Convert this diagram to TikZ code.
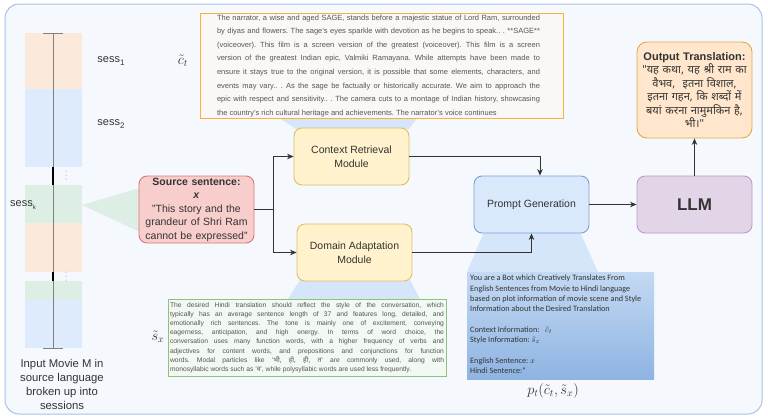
\documentclass[tikz,border=0pt]{standalone}
\usepackage{fontspec}
\setmainfont{Liberation Sans}
\newfontfamily\deva[Script=Devanagari]{Noto Sans}
\newfontfamily\carl{Carlito}
\usetikzlibrary{arrows.meta}
\frenchspacing
\definecolor{outerf}{RGB}{245,249,254}
\definecolor{outerd}{RGB}{166,194,230}
\definecolor{peach}{RGB}{251,233,220}
\definecolor{lblue}{RGB}{222,235,252}
\definecolor{lgreen}{RGB}{221,238,229}
\definecolor{wblue}{RGB}{214,230,250}
\definecolor{yfill}{RGB}{255,242,204}
\definecolor{ydraw}{RGB}{222,190,100}
\definecolor{bfill}{RGB}{218,232,252}
\definecolor{bdraw}{RGB}{120,160,215}
\definecolor{pfill}{RGB}{225,213,231}
\definecolor{pdraw}{RGB}{185,155,205}
\definecolor{rfill}{RGB}{248,206,204}
\definecolor{rdraw}{RGB}{214,120,118}
\definecolor{ofill}{RGB}{255,230,204}
\definecolor{odraw}{RGB}{225,170,70}
\definecolor{ctdraw}{RGB}{242,182,50}
\definecolor{ctfill}{RGB}{251,247,247}
\definecolor{sxdraw}{RGB}{140,195,120}
\definecolor{sxfill}{RGB}{242,248,242}
\definecolor{ptop}{RGB}{196,217,243}
\definecolor{pbot}{RGB}{142,180,226}
\definecolor{txt}{RGB}{51,51,51}
\definecolor{gtxt}{RGB}{85,85,85}
\definecolor{arrc}{RGB}{51,51,51}
\newcommand{\ctline}[1]{\hbox to 323pt{#1}}
\begin{document}
\begin{tikzpicture}[x=1pt,y=-1pt,
  box/.style={rounded corners=8pt, line width=0.9pt, minimum width=115pt,
    minimum height=57pt, inner sep=2pt, align=center, text=txt,
    font=\fontsize{10.5}{13.5}\selectfont},
  ybox/.style={box, fill=yfill, draw=ydraw},
  arr/.style={draw=arrc, line width=0.9pt, -{Stealth[length=6.5pt,width=5.5pt]}},
  plain/.style={draw=arrc, line width=0.9pt},
  lbl/.style={text=txt, font=\fontsize{11}{13.5}\selectfont, inner sep=0pt},
  mlbl/.style={text=txt, font=\fontsize{14}{16}\selectfont, inner sep=0pt}
]
\useasboundingbox (0,0) rectangle (768,418);
% outer frame
\draw[rounded corners=14pt, draw=outerd, fill=outerf, line width=1pt] (5,4) rectangle (762,414);

% session column
\fill[peach] (25,33) rectangle (82,89);
\fill[lblue] (25,89) rectangle (82,167);
\fill[lgreen] (25,185) rectangle (82,223);
\fill[peach] (25,223) rectangle (82,272);
\fill[lgreen] (25,281) rectangle (82,300);
\fill[lblue] (25,300) rectangle (82,348);
\draw[gray, line width=0.6pt] (53,33) -- (53,348);
\draw[gray, line width=0.8pt] (43,33) -- (63,33);
\draw[gray, line width=0.8pt] (43,348) -- (63,348);
\draw[black, line width=1.3pt] (53,167) -- (53,185);
\draw[black, line width=1.3pt] (53,272) -- (53,281);
\foreach \yy in {171,175,179} \fill[gray] (66,\yy) circle (0.5pt);
\foreach \yy in {272,276,280} \fill[gray] (66,\yy) circle (0.5pt);

\node[lbl] (s1) at (111,61) {sess\raisebox{-0.45ex}{\fontsize{8}{9}\selectfont 1}};
\node[lbl] (s2) at (111,124) {sess\raisebox{-0.45ex}{\fontsize{8}{9}\selectfont 2}};
\node[lbl] (sk) at (23,205) {sess\raisebox{-0.45ex}{\fontsize{6}{7}\selectfont k}};
\node[text=txt, font=\fontsize{11.3}{14}\selectfont, align=center, inner sep=0pt] (movie) at (62,384)
  {Input Movie M in\\source language\\broken up into\\sessions};

% wedges
\fill[lgreen] (82,205) -- (140,188) -- (140,232) -- cycle;
\fill[wblue] (296,129) -- (409,129) -- (418,117) -- (278,117) -- cycle;
\fill[wblue] (300,280) -- (410,280) -- (420,299) -- (288,299) -- cycle;
\fill[wblue] (484,232) -- (580,232) -- (598,272) -- (467,272) -- cycle;

% context box
\node[draw=ctdraw, fill=ctfill, line width=1pt, minimum width=363pt, minimum height=105pt, inner sep=0pt] (ct) at (381.5,65.5) {};
\node[text=gtxt, inner sep=0pt, anchor=north, font=\fontsize{7.5}{13.6}\selectfont] (cttext) at (378.5,14.5)
{\vbox{\hsize=323pt \baselineskip=13.6pt \spaceskip=0.278em plus 1em minus 0.1em
\ctline{The narrator, a wise and aged SAGE, stands before a majestic statue of Lord Ram, surrounded}
\ctline{by diyas and flowers. The sage's eyes sparkle with devotion as he begins to speak.. . **SAGE**}
\ctline{(voiceover). This film is a screen version of the greatest (voiceover). This film is a screen}
\ctline{version of the greatest Indian epic, Valmiki Ramayana. While attempts have been made to}
\ctline{ensure it stays true to the original version, it is possible that some elements, characters, and}
\ctline{events may vary.. . As the sage be factually or historically accurate. We aim to approach the}
\ctline{epic with respect and sensitivity.. . The camera cuts to a montage of Indian history, showcasing}
\hbox to 323pt{\spaceskip=0.278em the country's rich cultural heritage and achievements. The narrator's voice continues\hfil}}};
\node[mlbl] (ctl) at (183,61) {$\tilde{c}_t$};

% style box
\node[draw=sxdraw, fill=sxfill, line width=1pt, minimum width=278pt, minimum height=77pt, inner sep=0pt] (sx) at (307,337.5) {};
\node[text=gtxt, text width=274pt, align=justify, inner sep=0pt,
  font=\fontsize{6.7}{9.2}\selectfont] (sxtext) at (307,337.5)
{\spaceskip=0.278em plus 1em minus 0.1em\parfillskip=0pt The desired Hindi translation should reflect the style of the conversation, which\linebreak
typically has an average sentence length of 37 and features long, detailed, and\linebreak
emotionally rich sentences. The tone is mainly one of excitement, conveying\linebreak
eagerness, anticipation, and high energy. In terms of word choice, the\linebreak
conversation uses many function words, with a higher frequency of verbs and\linebreak
adjectives for content words, and prepositions and conjunctions for function\linebreak
words. Modal particles like '{\deva भी, हो, ही, त}' are commonly used, along with\linebreak
monosyllabic words such as '{\deva व}', while polysyllabic words are used less frequently.};
\node[mlbl] (sxl) at (158,337) {$\tilde{s}_x$};

% prompt text box
\node[top color=ptop, bottom color=pbot, minimum width=187pt, minimum height=107pt, inner sep=0pt] (pt) at (560.5,325.5) {};
\node[anchor=north west, text=txt, align=left, inner sep=0pt,
  font=\carl\fontsize{8.2}{10.3}\selectfont] (pttext) at (470,275)
{You are a Bot which Creatively Translates From\\
English Sentences from Movie to Hindi language\\
based on plot information of movie scene and Style\\
Information about the Desired Translation\\[10.3pt]
Context Information:\ \ \ $\tilde{c}_t$\\
Style Information: $\tilde{s}_x$\\[10.3pt]
English Sentence: $x$\\
Hindi Sentence:"};
\node[mlbl] (ptl) at (553,391) {$p_t(\tilde{c}_t,\tilde{s}_x)$};

% main nodes
\node[box, fill=rfill, draw=rdraw, minimum height=67pt, text width=113pt, inner sep=1pt] (src) at (196.5,209.5)
  {\textbf{Source sentence:}\\\textbf{\textit{x}}\\"This story and the grandeur of Shri Ram cannot be expressed"};
\node[ybox] (crm) at (351.5,156.5) {Context Retrieval\\Module};
\node[ybox] (dam) at (354.5,252.5) {Domain Adaptation\\Module};
\node[box, fill=bfill, draw=bdraw] (pg) at (531.5,204.5) {Prompt Generation};
\node[box, fill=pfill, draw=pdraw, font=\fontsize{17}{20}\selectfont\bfseries] (llm) at (694.5,204.5) {LLM};
\node[box, fill=ofill, draw=odraw, rounded corners=10pt, minimum height=96pt, text width=113pt, inner sep=1pt,
  font=\fontsize{11}{13.5}\selectfont] (out) at (694.5,90)
  {\lineskiplimit=-20pt\lineskip=0pt\textbf{Output Translation:}\\{\deva "यह कथा, यह श्री राम का\\वैभव,\ \ इतना विशाल,\\इतना गहन, कि शब्दों में\\बयां करना नामुमकिन है,\\भी।"}};

% connectors
\coordinate (split) at (273,209.5);
\draw[plain] (src.east) -- (split);
\draw[arr] (split) |- (crm.west);
\draw[arr] (split) |- (dam.west);
\draw[arr] (crm.east) -| ([xshift=8.5pt]pg.north);
\draw[arr] (dam.east) -| (pg.south);
\draw[arr] (pg.east) -- (llm.west);
\draw[arr] (llm.north) -- (out.south);
\end{tikzpicture}
\end{document}
